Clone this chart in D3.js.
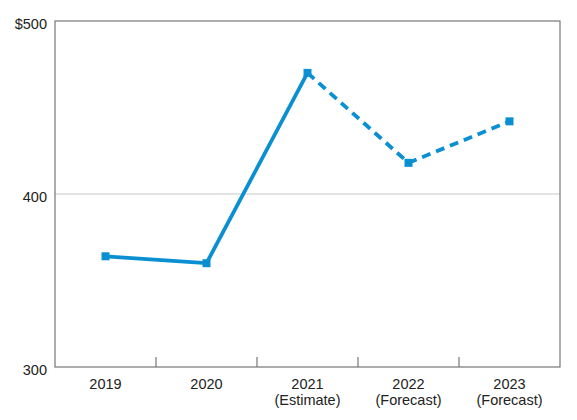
<!DOCTYPE html>
<html><head><meta charset="utf-8">
<script src="https://cdn.jsdelivr.net/npm/d3@7"></script>
<style>body{margin:0;background:#fff}text{font-family:"Liberation Sans",Arial,Helvetica,sans-serif;fill:#222}</style>
</head><body>
<svg id="c" width="577" height="420"></svg>
<script>
const categories = ["2019","2020","2021","2022","2023"];
const subLabels = ["","","(Estimate)","(Forecast)","(Forecast)"];
const values = [364, 360, 470, 418, 442];
const actualCount = 3; // first 3 points solid (2019-2021), rest dashed
const yTicks = [300, 400, 500];
const yTickLabels = ["300", "400", "$500"];

const svg = d3.select("#c");
const m = {l:55, r:17, t:21, b:53};
const W = 577, H = 420;
const x = d3.scaleBand().domain(categories).range([m.l, W - m.r]);
const y = d3.scaleLinear().domain([300, 500]).range([H - m.b, m.t]);
const cx = d => x(d) + x.bandwidth()/2;
const color = "#0b8fd3";

// gridline at 400
svg.append("g").selectAll("line").data(yTicks.filter(t => t > 300 && t < 500)).join("line")
  .attr("x1", m.l).attr("x2", W - m.r)
  .attr("y1", d => y(d)).attr("y2", d => y(d))
  .attr("stroke", "#c8c8c8").attr("stroke-width", 1);

// frame
svg.append("rect").attr("x", m.l).attr("y", m.t)
  .attr("width", W - m.l - m.r).attr("height", H - m.t - m.b)
  .attr("fill", "none").attr("stroke", "#777").attr("stroke-width", 1.2);

// x ticks (between bands)
svg.append("g").selectAll("line").data(categories.slice(1)).join("line")
  .attr("x1", d => x(d)).attr("x2", d => x(d))
  .attr("y1", H - m.b).attr("y2", H - m.b - 10)
  .attr("stroke", "#777").attr("stroke-width", 1.2);

// y labels
svg.append("g").selectAll("text").data(yTicks).join("text")
  .attr("x", m.l - 8).attr("y", d => y(d) + 8)
  .attr("text-anchor", "end").attr("font-size", 14.5)
  .text((d, i) => yTickLabels[i]);

// x labels
const xl = svg.append("g").selectAll("text").data(categories).join("text")
  .attr("x", d => cx(d)).attr("y", H - m.b + 22)
  .attr("text-anchor", "middle").attr("font-size", 14.5);
xl.append("tspan").attr("x", d => cx(d)).text(d => d);
xl.append("tspan").attr("x", d => cx(d)).attr("dy", 16).text((d, i) => subLabels[i]);

const pts = categories.map((c, i) => ({c, v: values[i]}));
const line = d3.line().x(d => cx(d.c)).y(d => y(d.v));
svg.append("path").datum(pts.slice(0, actualCount))
  .attr("d", line).attr("fill", "none").attr("stroke", color)
  .attr("stroke-width", 3.8).attr("stroke-linejoin", "round");
svg.append("path").datum(pts.slice(actualCount - 1))
  .attr("d", line).attr("fill", "none").attr("stroke", color)
  .attr("stroke-width", 3.8).attr("stroke-dasharray", "9,6");

svg.append("g").selectAll("rect").data(pts).join("rect")
  .attr("x", d => cx(d.c) - 4).attr("y", d => y(d.v) - 4)
  .attr("width", 8).attr("height", 8).attr("fill", color);
</script>
</body></html>
